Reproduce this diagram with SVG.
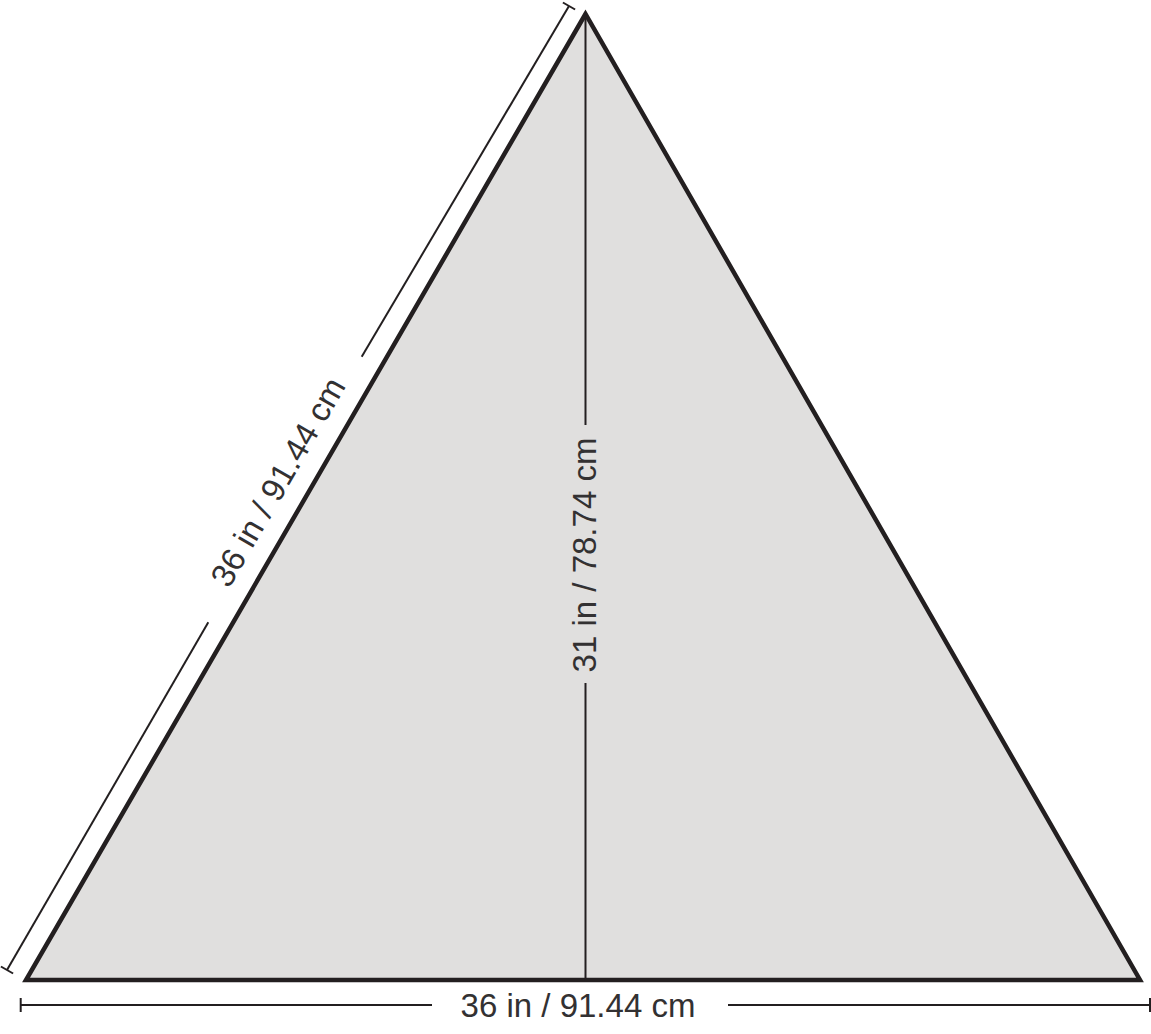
<svg xmlns="http://www.w3.org/2000/svg" width="1151" height="1034" viewBox="0 0 1151 1034">
<style>
.dim{stroke:#231f20;stroke-width:2;fill:none}
.lbl{font-family:"Liberation Sans",Arial,sans-serif;font-size:33px;fill:#333132;text-anchor:middle}
</style>
<rect width="1151" height="1034" fill="#ffffff"/>
<g id="triangle">
<polygon points="585.5,14 26,980 1140,980" fill="#e0dfde" stroke="#231f20" stroke-width="4.5" stroke-linejoin="miter"/>
</g>
<g id="connectors">
<g id="height-dim">
<line class="dim" x1="585.5" y1="14" x2="585.5" y2="425"/>
<line class="dim" x1="585.5" y1="683" x2="585.5" y2="980"/>
</g>
<g id="base-dim">
<line class="dim" x1="20.7" y1="1005" x2="432" y2="1005"/>
<line class="dim" x1="728" y1="1005" x2="1150" y2="1005"/>
<line class="dim" x1="20.7" y1="998" x2="20.7" y2="1012"/>
<line class="dim" x1="1150" y1="998" x2="1150" y2="1012"/>
</g>
<g id="side-dim">
<line class="dim" x1="7" y1="970" x2="208.3" y2="622.3"/>
<line class="dim" x1="361.7" y1="356.7" x2="569" y2="6"/>
<line class="dim" x1="0.9" y1="966.5" x2="13.1" y2="973.5"/>
<line class="dim" x1="562.9" y1="2.5" x2="575.1" y2="9.5"/>
</g>
</g>
<g id="labels">
<text class="lbl" x="578" y="1017">36 in / 91.44 cm</text>
<text class="lbl" transform="translate(596,555) rotate(-90)" x="0" y="0">31 in / 78.74 cm</text>
<text class="lbl" transform="translate(287.8,487.5) rotate(-60)" x="0" y="0">36 in / 91.44 cm</text>
</g>
</svg>
